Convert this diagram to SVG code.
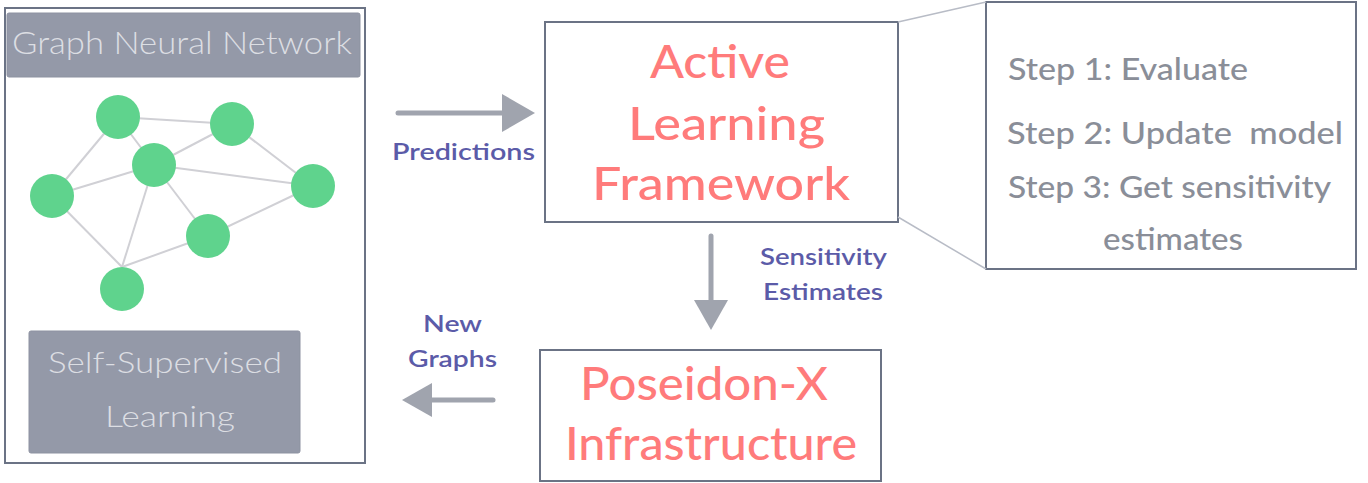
<svg xmlns="http://www.w3.org/2000/svg" width="1368" height="483" viewBox="0 0 1368 483">
<defs>
<style>
.frame{fill:#ffffff;stroke:#6b7385;stroke-width:2}
.band{fill:#9499a8;stroke:#8d92a1;stroke-width:1}
.bandtxt{font-family:Lato,"Open Sans",sans-serif;font-weight:300;fill:#dcdee3}
.edge{stroke:#d0d0d5;stroke-width:2;fill:none}
.node{fill:#5fd38d}
.arrow{stroke:#a0a4ae;stroke-width:5;stroke-linecap:round;fill:none}
.head{fill:#a0a4ae}
.lbl{font-family:Lato,"Open Sans",sans-serif;font-weight:600;fill:#5b5ba8;font-size:23px}
.big{font-family:Lato,"Open Sans",sans-serif;font-weight:500;fill:#ff7b7b;font-size:46px}
.step{font-family:Lato,"Open Sans",sans-serif;font-weight:500;fill:#8a8e98;font-size:31px}
.zoom{stroke:#b8bcc6;stroke-width:1.5;fill:none}
</style>
</defs>

<g id="gnn-panel">
<rect class="frame" x="5" y="8" width="360" height="455"/>
<rect class="band" x="7" y="13" width="353" height="64" rx="2"/>
<text class="bandtxt" x="12" y="54" font-size="32" textLength="340" lengthAdjust="spacingAndGlyphs">Graph Neural Network</text>
</g>

<g id="graph">
<g class="edges">
<line class="edge" x1="118" y1="117" x2="232" y2="124"/>
<line class="edge" x1="118" y1="117" x2="154" y2="165"/>
<line class="edge" x1="154" y1="165" x2="232" y2="124"/>
<line class="edge" x1="232" y1="124" x2="313" y2="186"/>
<line class="edge" x1="118" y1="117" x2="52" y2="196"/>
<line class="edge" x1="52" y1="196" x2="154" y2="165"/>
<line class="edge" x1="52" y1="196" x2="122" y2="267"/>
<line class="edge" x1="154" y1="165" x2="122" y2="267"/>
<line class="edge" x1="154" y1="165" x2="208" y2="236"/>
<line class="edge" x1="154" y1="165" x2="313" y2="186"/>
<line class="edge" x1="313" y1="186" x2="208" y2="236"/>
<line class="edge" x1="122" y1="267" x2="208" y2="236"/>
</g>
<circle class="node" cx="118" cy="117" r="22"/>
<circle class="node" cx="232" cy="124" r="22"/>
<circle class="node" cx="154" cy="165" r="22"/>
<circle class="node" cx="52" cy="196" r="22"/>
<circle class="node" cx="313" cy="186" r="22"/>
<circle class="node" cx="208" cy="236" r="22"/>
<circle class="node" cx="122" cy="289" r="22"/>
</g>

<g id="ssl">
<rect class="band" x="29" y="331" width="271" height="122" rx="2"/>
<text class="bandtxt" x="48" y="373" font-size="29" textLength="234" lengthAdjust="spacingAndGlyphs">Self-Supervised</text>
<text class="bandtxt" x="105" y="427" font-size="29" textLength="130" lengthAdjust="spacingAndGlyphs">Learning</text>
</g>

<g id="active-learning">
<rect class="frame" x="545" y="22" width="353" height="200"/>
<text class="big" x="650" y="78" textLength="140" lengthAdjust="spacingAndGlyphs">Active</text>
<text class="big" x="628" y="140" textLength="197" lengthAdjust="spacingAndGlyphs">Learning</text>
<text class="big" x="592" y="200" textLength="258" lengthAdjust="spacingAndGlyphs">Framework</text>
</g>

<g id="steps">
<rect class="frame" x="986" y="2" width="370" height="267" stroke-width="1.6"/>
<text class="step" x="1008" y="80" textLength="240" lengthAdjust="spacingAndGlyphs">Step 1: Evaluate</text>
<text class="step" x="1007" y="144" xml:space="preserve" textLength="336" lengthAdjust="spacingAndGlyphs">Step 2: Update  model</text>
<text class="step" x="1008" y="198" textLength="323" lengthAdjust="spacingAndGlyphs">Step 3: Get sensitivity</text>
<text class="step" x="1103" y="250" textLength="140" lengthAdjust="spacingAndGlyphs">estimates</text>
</g>

<g id="poseidon">
<rect class="frame" x="540" y="350" width="341" height="131"/>
<text class="big" x="580" y="400" textLength="248" lengthAdjust="spacingAndGlyphs">Poseidon-X</text>
<text class="big" x="565" y="460" textLength="292" lengthAdjust="spacingAndGlyphs">Infrastructure</text>
</g>

<g id="connectors">
<line class="zoom" x1="898" y1="22" x2="986" y2="2"/>
<line class="zoom" x1="898" y1="217" x2="986" y2="269"/>
<line class="arrow" x1="398" y1="113" x2="505" y2="113"/>
<polygon class="head" points="502,94 535,113 502,132"/>
<line class="arrow" x1="711" y1="236" x2="711" y2="303"/>
<polygon class="head" points="694,300 728,300 711,330"/>
<line class="arrow" x1="493" y1="400" x2="430" y2="400"/>
<polygon class="head" points="432,383 432,417 402,400"/>
<text class="lbl" x="392" y="160" textLength="143" lengthAdjust="spacingAndGlyphs">Predictions</text>
<text class="lbl" x="760" y="265" textLength="127" lengthAdjust="spacingAndGlyphs">Sensitivity</text>
<text class="lbl" x="763" y="300" textLength="120" lengthAdjust="spacingAndGlyphs">Estimates</text>
<text class="lbl" x="423" y="332" textLength="59" lengthAdjust="spacingAndGlyphs">New</text>
<text class="lbl" x="408" y="367" textLength="89" lengthAdjust="spacingAndGlyphs">Graphs</text>
</g>
</svg>
